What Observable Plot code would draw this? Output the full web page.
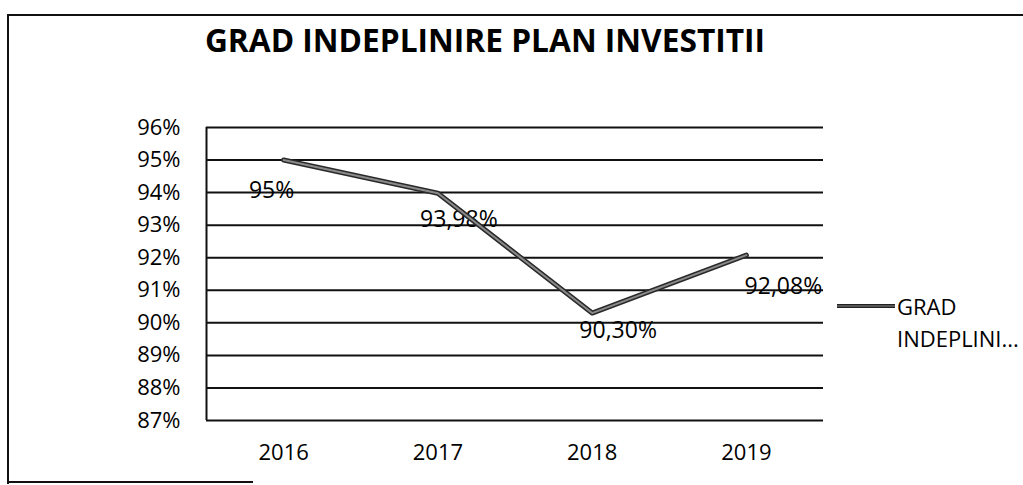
<!DOCTYPE html>
<html>
<head>
<meta charset="utf-8">
<script src="https://cdn.jsdelivr.net/npm/d3@7"></script>
<script src="https://cdn.jsdelivr.net/npm/@observablehq/plot@0.6"></script>
<style>
  html, body { margin: 0; padding: 0; background: #fff; }
  #wrap { position: relative; width: 1023px; height: 485px; overflow: hidden; font-family: "Open Sans", sans-serif; color: #000; }
  #frame { position: absolute; left: 7px; top: 14px; width: 1030px; height: 470px; border-left: 2px solid #111; border-top: 2px solid #111; box-sizing: border-box; }
  #frameBottom { position: absolute; left: 7px; top: 481px; width: 246px; height: 2px; background: #111; }
  #title { position: absolute; left: 0; width: 970px; top: 24px; text-align: center; font-size: 31.7px; font-weight: 700; line-height: 1; }
  #chart { position: absolute; left: 0; top: 0; }
  #legend { position: absolute; left: 837px; top: 290px; font-size: 22px; line-height: 32px; }
  #legend .sw { position: absolute; left: 0; top: 14px; width: 58px; height: 4px; background: #555; border-top: 1px solid #222; border-bottom: 1px solid #222; box-sizing: border-box; }
  #legend .txt { position: absolute; left: 60px; top: 0; white-space: nowrap; }
</style>
</head>
<body>
<div id="wrap">
  <div id="frame"></div>
  <div id="frameBottom"></div>
  <div id="title">GRAD INDEPLINIRE PLAN INVESTITII</div>
  <div id="chart"></div>
  <div id="legend"><div class="sw"></div><div class="txt">GRAD<br>INDEPLINI...</div></div>
</div>
<script>
const years = [2016, 2017, 2018, 2019];
const values = [0.95, 0.9398, 0.9030, 0.9208];
const valueLabels = ["95%", "93,98%", "90,30%", "92,08%"];
const yTicks = [0.87, 0.88, 0.89, 0.90, 0.91, 0.92, 0.93, 0.94, 0.95, 0.96];
const yTickLabels = ["87%", "88%", "89%", "90%", "91%", "92%", "93%", "94%", "95%", "96%"];
const seriesName = "GRAD INDEPLINIRE PLAN INVESTITII";

const data = years.map((year, i) => ({year, value: values[i], label: valueLabels[i]}));
const xDomain = [2015.5, 2019.5];

// per-label offsets, mimicking Excel's label placement in the scan
const labelOffsets = [[-12, 31], [21, 26], [26, 18], [37, 32]];

const labelMarks = data.map((d, i) =>
  Plot.text([d], {x: "year", y: "value", text: "label", dx: labelOffsets[i][0], dy: labelOffsets[i][1], fontSize: 23, fill: "#000", textAnchor: "middle"})
);

const chart = Plot.plot({
  width: 1023,
  height: 485,
  marginLeft: 206,
  marginRight: 200,
  marginTop: 127,
  marginBottom: 65,
  style: {fontFamily: "Open Sans, sans-serif", color: "#000", background: "transparent"},
  x: {type: "linear", domain: xDomain},
  y: {domain: [0.87, 0.96]},
  marks: [
    Plot.ruleY(yTicks, {stroke: "#111", strokeWidth: 2}),
    Plot.ruleX([xDomain[0]], {stroke: "#111", strokeWidth: 2}),
    Plot.axisY({ticks: yTicks, tickFormat: (d) => yTickLabels[yTicks.findIndex(t => Math.abs(t - d) < 1e-9)], tickSize: 0, tickPadding: 26, fontSize: 22, label: null}),
    Plot.axisX({ticks: years, tickFormat: (d) => String(d), tickSize: 0, tickPadding: 24, fontSize: 22, label: null}),
    ...labelMarks,
    Plot.line(data, {x: "year", y: "value", stroke: "#2a2a2a", strokeWidth: 5, strokeLinejoin: "round"}),
    Plot.line(data, {x: "year", y: "value", stroke: "#8a8a8a", strokeWidth: 2, strokeLinejoin: "round"})
  ]
});
document.getElementById("chart").appendChild(chart);
</script>
</body>
</html>
